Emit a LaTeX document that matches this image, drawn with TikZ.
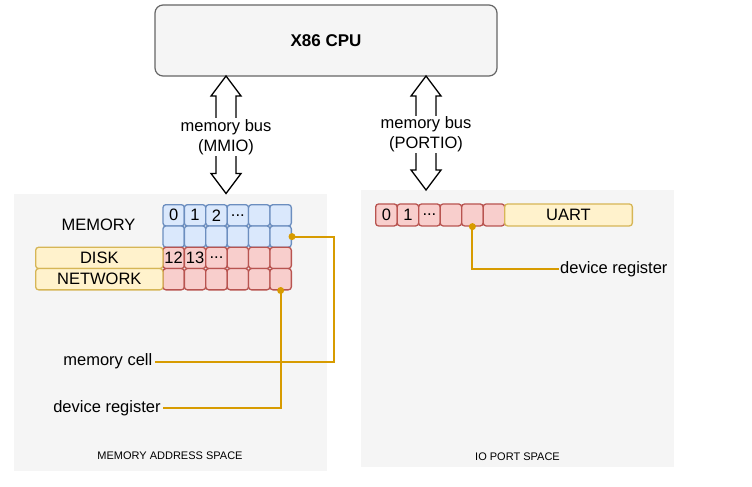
\documentclass[tikz,border=0pt]{standalone}
\usepackage{fontspec}
\setmainfont{Liberation Sans}
\definecolor{spacegray}{HTML}{F5F5F5}
\definecolor{cpuline}{HTML}{666666}
\definecolor{memfill}{HTML}{DAE8FC}
\definecolor{memline}{HTML}{6C8EBF}
\definecolor{devfill}{HTML}{F8CECC}
\definecolor{devline}{HTML}{B85450}
\definecolor{namefill}{HTML}{FFF2CC}
\definecolor{nameline}{HTML}{D6B656}
\definecolor{wirecol}{HTML}{D79B00}
\newcommand{\celldots}{...}
\begin{document}
\begin{tikzpicture}[x=1pt,y=-1pt,
  font=\fontsize{16.5}{20}\selectfont,
  space/.style={fill=spacegray,inner sep=0,anchor=north west},
  cpubox/.style={draw=cpuline,line width=1.2pt,fill=spacegray,rounded corners=8pt,
    minimum width=342pt,minimum height=71pt,font=\fontsize{17}{20}\selectfont\bfseries},
  cell/.style={rounded corners=3pt,line width=1.3pt,minimum width=21.4pt,
    minimum height=21.3pt,inner sep=0,anchor=north west},
  memcell/.style={cell,draw=memline,fill=memfill},
  devcell/.style={cell,draw=devline,fill=devfill},
  namebox/.style={cell,draw=nameline,fill=namefill},
  bus/.style={draw,line width=1.3pt,fill=white,line join=miter},
  buslbl/.style={fill=white,align=center,inner sep=1pt},
  wire/.style={draw=wirecol,line width=2pt},
  dot/.style={fill=wirecol},
  small/.style={font=\fontsize{11}{13}\selectfont}]
\useasboundingbox (0,0) rectangle (752,487);
% address spaces
\node[space,minimum width=313.5pt,minimum height=277pt] (memspace) at (13.5,194) {};
\node[space,minimum width=313pt,minimum height=277pt] (iospace) at (361,190) {};
\node[small] (memtitle) at (170,456) {MEMORY ADDRESS SPACE};
\node[small] (iotitle) at (517.5,456.5) {IO PORT SPACE};
% cpu and buses
\node[cpubox] (cpu) at (326,40.5) {X86 CPU};
\foreach \x/\b in {226/193.5,426/190}
  \draw[bus] (\x,76) -- ++(15,20) -- ++(-5,0) -- (\x+10,\b-20) -- ++(5,0) -- (\x,\b)
    -- ++(-15,-20) -- ++(5,0) -- (\x-10,96) -- ++(-5,0) -- cycle;
\node[buslbl] (mmiolbl) at (226,137) {memory bus\\(MMIO)};
\node[buslbl] (portiolbl) at (426,134.5) {memory bus\\(PORTIO)};
% memory address space
\foreach \t [count=\c from 0] in {0,1,2,\celldots,{},{}}
  \node[memcell] (mem-0-\c) at (162.3+21.4*\c,204) {\t};
\foreach \c in {0,...,5}
  \node[memcell] (mem-1-\c) at (162.3+21.4*\c,225.3) {};
\foreach \t [count=\c from 0] in {12,13,\celldots,{},{},{}}
  \node[devcell] (mem-2-\c) at (162.3+21.4*\c,246.6) {\t};
\foreach \c in {0,...,5}
  \node[devcell] (mem-3-\c) at (162.3+21.4*\c,267.9) {};
\node (memlbl) at (98.5,225) {MEMORY};
\node[namebox,minimum width=127.3pt] (disk) at (35,246.6) {DISK};
\node[namebox,minimum width=127.3pt] (net) at (35,267.9) {NETWORK};
\node[anchor=east,inner sep=2.5pt] (celllbl) at (155,361.7) {memory cell};
\node[anchor=east,inner sep=2.5pt] (devlbl) at (163.3,408.3) {device register};
\draw[wire] (mem-1-5.east) -- ++(42,0) |- (celllbl.east);
\draw[wire] (mem-3-5.south) |- (devlbl.east);
% io port space
\foreach \t [count=\c from 0] in {0,1,\celldots,{},{},{}}
  \node[devcell,minimum width=21.5pt,minimum height=22pt] (io-\c) at (375+21.5*\c,203.3) {\t};
\node[namebox,minimum width=127.7pt,minimum height=22pt] (uart) at (504,203.3) {UART};
\node[anchor=west,inner sep=1pt] (iolbl) at (559,269) {device register};
\draw[wire] (io-4.south) |- (iolbl.west);
\fill[dot] (mem-1-5.east) circle (3.5pt) (mem-3-5.south) circle (3.5pt) (io-4.south) circle (3.5pt);
\end{tikzpicture}
\end{document}
